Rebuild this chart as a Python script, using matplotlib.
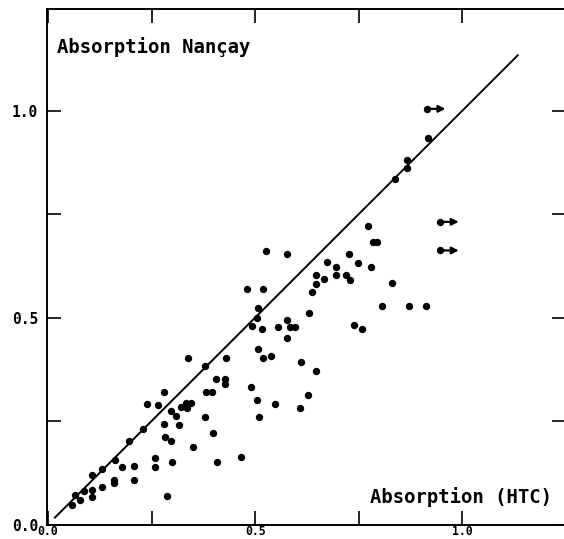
import matplotlib
matplotlib.use("Agg")
import matplotlib.pyplot as plt

# Data (HTC absorption vs Nancay absorption)
htc = [0.058, 0.078, 0.066, 0.087, 0.107, 0.107, 0.106, 0.130, 0.130, 0.162,
       0.179, 0.160, 0.160, 0.208, 0.208, 0.196, 0.228, 0.238, 0.266, 0.279,
       0.257, 0.258, 0.299, 0.288, 0.280, 0.283, 0.296, 0.296, 0.308, 0.317,
       0.320, 0.333, 0.345, 0.335, 0.351, 0.378, 0.382, 0.396, 0.397, 0.408,
       0.426, 0.428, 0.406, 0.465, 0.489, 0.505, 0.508, 0.548, 0.609, 0.628,
       0.610, 0.647, 0.338, 0.378, 0.430, 0.507, 0.519, 0.537, 0.630, 0.577,
       0.583, 0.597, 0.577, 0.555, 0.516, 0.493, 0.505, 0.507, 0.479, 0.518,
       0.526, 0.577, 0.636, 0.646, 0.647, 0.667, 0.674, 0.696, 0.696, 0.718,
       0.729, 0.726, 0.747, 0.779, 0.783, 0.794, 0.771, 0.830, 0.807, 0.872,
       0.911, 0.739, 0.757, 0.838, 0.867, 0.866, 0.916]
nancay = [0.048, 0.059, 0.072, 0.082, 0.083, 0.067, 0.120, 0.133, 0.091, 0.156,
          0.140, 0.107, 0.101, 0.141, 0.107, 0.201, 0.231, 0.291, 0.289, 0.319,
          0.161, 0.138, 0.152, 0.070, 0.242, 0.211, 0.201, 0.275, 0.262, 0.241,
          0.283, 0.293, 0.293, 0.281, 0.188, 0.260, 0.321, 0.321, 0.221, 0.152,
          0.339, 0.351, 0.352, 0.162, 0.331, 0.301, 0.260, 0.292, 0.281, 0.312,
          0.393, 0.371, 0.401, 0.383, 0.401, 0.423, 0.401, 0.408, 0.511, 0.451,
          0.478, 0.478, 0.493, 0.478, 0.472, 0.480, 0.500, 0.524, 0.570, 0.570,
          0.661, 0.653, 0.562, 0.582, 0.603, 0.593, 0.633, 0.623, 0.603, 0.603,
          0.591, 0.653, 0.631, 0.622, 0.682, 0.682, 0.722, 0.583, 0.529, 0.529,
          0.529, 0.482, 0.473, 0.835, 0.880, 0.861, 0.934]

# Lower limits (HTC value is a lower bound -> arrow to the right)
limit_htc = [0.914, 0.946, 0.946]
limit_nancay = [1.004, 0.731, 0.662]

# Equality line
line_x = [0.015, 1.135]
line_y = [0.015, 1.135]

tick_vals = [0.0, 0.25, 0.5, 0.75, 1.0]
tick_labels = ["0.0", "", "0.5", "", "1.0"]

W, H = 564, 539
fig = plt.figure(figsize=(W / 100, H / 100), dpi=100)
fig.patch.set_facecolor("white")
ax = fig.add_axes([47 / W, 14 / H, (566 - 47) / W, (530 - 14) / H])

mono = "DejaVu Sans Mono"

ax.plot(line_x, line_y, color="black", lw=1.4, solid_capstyle="butt")
ax.plot(htc, nancay, "o", color="black", ms=5.3, mew=0)
ax.plot(limit_htc, limit_nancay, "o", color="black", ms=5.3, mew=0)
for x, y in zip(limit_htc, limit_nancay):
    ax.annotate("", xy=(x + 0.045, y), xytext=(x, y),
                arrowprops=dict(arrowstyle="-|>", color="black", lw=1.6,
                                mutation_scale=10, shrinkA=0, shrinkB=0))

ax.set_xlim(-0.0024, 1.2497)
ax.set_ylim(-0.0012, 1.2452)

ax.set_xticks(tick_vals)
ax.set_xticklabels(tick_labels, family=mono, fontsize=8.3, fontweight="bold")
ax.set_yticks(tick_vals)
ax.set_yticklabels(tick_labels, family=mono, fontsize=10.5, fontweight="bold")
ax.tick_params(axis="both", which="both", direction="in", length=10, width=1.2,
               top=True, right=True, colors="black")
ax.tick_params(axis="y", pad=6.5)
ax.tick_params(axis="x", pad=0.3)
for s in ax.spines.values():
    s.set_linewidth(1.4)

ax.text(0.0224, 1.153, "Absorption Nançay", family=mono, fontsize=13.6,
        fontweight="bold", ha="left", va="center")
ax.text(1.216, 0.066, "Absorption (HTC)", family=mono, fontsize=13.6,
        fontweight="bold", ha="right", va="center")

fig.savefig("out.png", dpi=100, facecolor="white")
